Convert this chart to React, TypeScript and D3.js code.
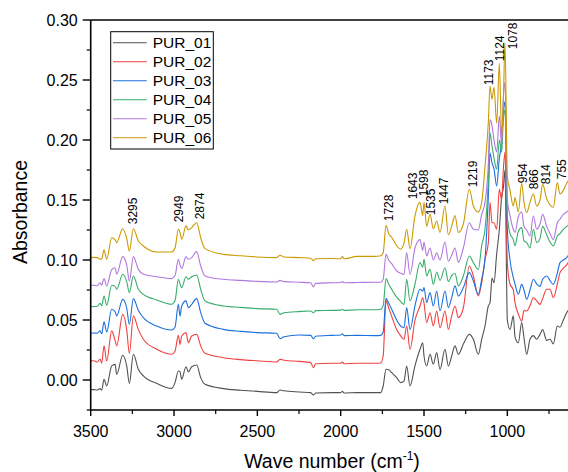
import React from 'react';
import * as d3 from 'd3';

// FTIR spectra of PUR_01..PUR_06 (stacked with offsets as in the figure)
const W = 568;
const H = 472;
const plot = { left: 90.7, right: 569, top: 20, bottom: 410 };

const waveNumbers = [
  3500, 3480, 3460, 3444, 3434, 3420, 3404, 3374, 3354, 3344, 3308, 3284, 3268, 3244, 3214, 3184,
  3104, 3014, 2994, 2974, 2964, 2954, 2928, 2914, 2894, 2864, 2840, 2814, 2704, 2600, 2500, 2384,
  2364, 2340, 2250, 2180, 2164, 2150, 2050, 2000, 1990, 1980, 1900,
  1800, 1760, 1745, 1728, 1712, 1694, 1664, 1640, 1620, 1604,
  1584, 1554, 1524, 1508, 1500, 1484, 1464, 1444, 1424, 1404,
  1374, 1354, 1334, 1314, 1294, 1264, 1228, 1204, 1174, 1154,
  1134, 1114, 1104, 1092, 1080, 1064, 1048, 1034, 1024, 1014,
  1000, 984, 964, 954, 934, 914, 900, 884, 864, 844,
  824, 804, 788, 764, 744, 724, 700, 684, 664, 644, 634,
];

const pur01 = [
  -0.0078, -0.008, -0.0083, -0.0072, -0.0086, 0.0006, -0.005, 0.0117, 0.013, 0.0047, 0.0206, 0.0117, -0.0028, 0.0214, 0.0089, 0.0034,
  -0.0028, -0.007, -0.0022, 0.0075, 0.0067, 0.0006, 0.0111, 0.0067, 0.0111, 0.0125, 0.002, -0.0036, -0.0072, -0.0085, -0.0095, -0.0105,
  -0.0083, -0.009, -0.01, -0.0105, -0.0125, -0.0108, -0.0105, -0.0105, -0.0095, -0.0108, -0.0105,
  -0.0105, -0.0105, -0.005, 0.0089, 0.0085, 0.0061, 0.002, -0.0022, -0.001, 0.0117,
  -0.005, 0.012, 0.0256, 0.0311, 0.02, 0.0117, 0.0214, 0.0131, 0.0228, 0.0089,
  0.0256, 0.0117, 0.02, 0.0284, 0.0214, 0.03, 0.038, 0.0339, 0.0214, 0.0339,
  0.045, 0.0617, 0.0645, 0.085, 0.081, 0.105, 0.1256, 0.153, 0.16, 0.175,
  0.05, 0.042, 0.0534, 0.036, 0.031, 0.0478, 0.035, 0.0214, 0.034, 0.037,
  0.034, 0.038, 0.042, 0.033, 0.034, 0.03, 0.045, 0.044, 0.05, 0.056, 0.058,
];

const pur02 = [
  0.0158, 0.016, 0.015, 0.0175, 0.014, 0.0284, 0.0158, 0.0409, 0.033, 0.0284, 0.0547, 0.042, 0.0222, 0.0534, 0.042, 0.034,
  0.0256, 0.0214, 0.024, 0.0372, 0.0297, 0.0367, 0.0395, 0.0311, 0.0367, 0.038, 0.0284, 0.0222, 0.0186, 0.017, 0.016, 0.015,
  0.0172, 0.0165, 0.0155, 0.0145, 0.0103, 0.0135, 0.014, 0.0139, 0.015, 0.0135, 0.014,
  0.014, 0.0142, 0.02, 0.066, 0.06, 0.053, 0.042, 0.0367, 0.0339, 0.045,
  0.0256, 0.05, 0.0617, 0.0686, 0.064, 0.0478, 0.0561, 0.045, 0.0575, 0.0436,
  0.0575, 0.0422, 0.0534, 0.0617, 0.052, 0.06, 0.095, 0.0867, 0.07, 0.081,
  0.1006, 0.1145, 0.148, 0.131, 0.131, 0.1256, 0.159, 0.15, 0.1756, 0.19,
  0.0978, 0.08, 0.075, 0.0645, 0.055, 0.049, 0.058, 0.0575, 0.062, 0.0686,
  0.066, 0.063, 0.068, 0.0756, 0.0756, 0.0686, 0.08, 0.0895, 0.093, 0.096, 0.098,
];

const pur03 = [
  0.0389, 0.0392, 0.039, 0.041, 0.0385, 0.0484, 0.04, 0.0589, 0.057, 0.0534, 0.0672, 0.06, 0.0464, 0.0678, 0.058, 0.052,
  0.045, 0.0417, 0.044, 0.0631, 0.0534, 0.0617, 0.0659, 0.0603, 0.0631, 0.0678, 0.0561, 0.0473, 0.0422, 0.0405, 0.0395, 0.0389,
  0.0345, 0.036, 0.0375, 0.0372, 0.0344, 0.0365, 0.0372, 0.0375, 0.0385, 0.037, 0.0372,
  0.037, 0.0372, 0.04, 0.068, 0.064, 0.059, 0.05, 0.045, 0.0436, 0.0603,
  0.042, 0.062, 0.0756, 0.074, 0.077, 0.0645, 0.0728, 0.0617, 0.0742, 0.0575,
  0.0742, 0.0603, 0.0686, 0.0784, 0.07, 0.077, 0.0895, 0.0825, 0.0714, 0.0839,
  0.1006, 0.153, 0.189, 0.181, 0.176, 0.1617, 0.185, 0.198, 0.223, 0.232,
  0.1256, 0.1, 0.0853, 0.08, 0.0714, 0.0797, 0.075, 0.0672, 0.075, 0.0839,
  0.08, 0.078, 0.084, 0.0867, 0.083, 0.0797, 0.089, 0.0978, 0.1, 0.102, 0.104,
];

const pur04 = [
  0.0611, 0.0612, 0.0615, 0.064, 0.062, 0.07, 0.0622, 0.0789, 0.078, 0.0756, 0.0881, 0.082, 0.0728, 0.0867, 0.0756, 0.0714,
  0.0667, 0.0631, 0.066, 0.0839, 0.08, 0.077, 0.0861, 0.0839, 0.0861, 0.0875, 0.0756, 0.0659, 0.0617, 0.0605, 0.0595, 0.0589,
  0.0547, 0.056, 0.057, 0.0575, 0.056, 0.0578, 0.058, 0.0582, 0.059, 0.058, 0.0585,
  0.0585, 0.059, 0.062, 0.0845, 0.08, 0.0756, 0.069, 0.0655, 0.063, 0.0839,
  0.066, 0.08, 0.0978, 0.094, 0.1006, 0.0867, 0.0922, 0.0797, 0.09, 0.083,
  0.0936, 0.082, 0.087, 0.089, 0.0784, 0.0867, 0.1033, 0.0978, 0.092, 0.112,
  0.1256, 0.167, 0.206, 0.195, 0.185, 0.1756, 0.2, 0.19, 0.217, 0.225,
  0.137, 0.122, 0.117, 0.112, 0.124, 0.127, 0.116, 0.1145, 0.11, 0.1256,
  0.1145, 0.118, 0.128, 0.121, 0.115, 0.1117, 0.12, 0.122, 0.1256, 0.128, 0.129,
];

const pur05 = [
  0.0789, 0.079, 0.0785, 0.081, 0.079, 0.0845, 0.0783, 0.092, 0.0936, 0.0881, 0.1028, 0.096, 0.0825, 0.1028, 0.0922, 0.0881,
  0.0861, 0.0845, 0.087, 0.1006, 0.096, 0.093, 0.1028, 0.1006, 0.102, 0.107, 0.095, 0.0867, 0.0839, 0.083, 0.0822, 0.0817,
  0.083, 0.082, 0.0815, 0.081, 0.0778, 0.0805, 0.081, 0.0812, 0.082, 0.081, 0.0812,
  0.0815, 0.0815, 0.084, 0.1047, 0.1, 0.097, 0.091, 0.089, 0.088, 0.1061,
  0.088, 0.11, 0.117, 0.108, 0.115, 0.1033, 0.11, 0.1, 0.106, 0.1,
  0.115, 0.099, 0.104, 0.11, 0.098, 0.11, 0.131, 0.1256, 0.125, 0.138,
  0.148, 0.18, 0.217, 0.212, 0.2, 0.19, 0.22, 0.195, 0.235, 0.248,
  0.15, 0.137, 0.1256, 0.123, 0.136, 0.14, 0.128, 0.125, 0.12, 0.1367,
  0.1256, 0.13, 0.138, 0.128, 0.122, 0.117, 0.131, 0.134, 0.138, 0.14, 0.141,
];

const pur06 = [
  0.102, 0.1022, 0.102, 0.1006, 0.101, 0.1084, 0.1006, 0.1186, 0.117, 0.1145, 0.1261, 0.118, 0.1075, 0.1261, 0.1159, 0.1117,
  0.1067, 0.1067, 0.11, 0.1256, 0.123, 0.1173, 0.1284, 0.125, 0.127, 0.1311, 0.1186, 0.1095, 0.1047, 0.1035, 0.1025, 0.102,
  0.104, 0.1025, 0.102, 0.1015, 0.0995, 0.101, 0.1012, 0.101, 0.103, 0.101, 0.103,
  0.103, 0.1035, 0.106, 0.129, 0.122, 0.119, 0.112, 0.109, 0.114, 0.1256,
  0.1095, 0.137, 0.148, 0.137, 0.148, 0.128, 0.138, 0.126, 0.1325, 0.123,
  0.145, 0.121, 0.128, 0.137, 0.123, 0.13, 0.159, 0.145, 0.14, 0.148,
  0.178, 0.215, 0.245, 0.234, 0.244, 0.214, 0.264, 0.203, 0.232, 0.281,
  0.17, 0.158, 0.145, 0.152, 0.14, 0.164, 0.148, 0.1395, 0.148, 0.155,
  0.145, 0.15, 0.163, 0.151, 0.146, 0.144, 0.1645, 0.155, 0.158, 0.164, 0.166,
];

const seriesNames = ['PUR_01', 'PUR_02', 'PUR_03', 'PUR_04', 'PUR_05', 'PUR_06'];
const seriesValues = [pur01, pur02, pur03, pur04, pur05, pur06];
const seriesColors = ['#515151', '#F14040', '#1A6FDF', '#37AD6B', '#B177DE', '#CC9900'];

// peak annotations: text, anchor wave number, anchor absorbance
const peakText = ['3295', '2949', '2874', '1728', '1643', '1598', '1535', '1447', '1219', '1173', '1124', '1078', '954', '866', '814', '755'];
const peakWn = [3224, 2944, 2823, 1684, 1540, 1476, 1434, 1354, 1184, 1084, 1020, 940, 880, 814, 744, 648];
const peakAbs = [0.1298, 0.1314, 0.1339, 0.1323, 0.1506, 0.1531, 0.1373, 0.1464, 0.1606, 0.2456, 0.2656, 0.2756, 0.1639, 0.1589, 0.1631, 0.1673];

const xMajor = [3500, 3000, 2500, 2000, 1500, 1000];
const xMinor = [3250, 2750, 2250, 1750, 1250, 750];
const yMajor = [0, 0.05, 0.1, 0.15, 0.2, 0.25, 0.3];
const yMinor = [-0.025, 0.025, 0.075, 0.125, 0.175, 0.225, 0.275];

const FONT = 'Arial, "Liberation Sans", sans-serif';

export default function App() {
  const x = d3.scaleLinear().domain([3500, 630]).range([plot.left, plot.right]);
  const y = d3.scaleLinear().domain([-0.025, 0.3]).range([plot.bottom, plot.top]);

  const line = d3
    .line<number>()
    .x((_, i) => x(waveNumbers[i]))
    .y((d) => y(d))
    .curve(d3.curveMonotoneX);

  return (
    <svg
      width={W}
      height={H}
      style={{ position: 'absolute', left: 0, top: 0, background: '#fff' }}
      fontFamily={FONT}
    >
      <defs>
        <clipPath id="plotClip">
          <rect x={plot.left} y={plot.top} width={W - plot.left} height={plot.bottom - plot.top} />
        </clipPath>
      </defs>

      <g clipPath="url(#plotClip)">
        {seriesValues.map((vals, i) => (
          <path key={seriesNames[i]} d={line(vals) || ''} fill="none" stroke={seriesColors[i]} strokeWidth={1.1} />
        ))}
      </g>

      {/* frame */}
      <line x1={plot.left} x2={W} y1={plot.top} y2={plot.top} stroke="#000" strokeWidth={1.6} />
      <line x1={plot.left} x2={plot.left} y1={plot.top} y2={plot.bottom} stroke="#000" strokeWidth={1.6} />
      <line x1={plot.left - 0.8} x2={W} y1={plot.bottom} y2={plot.bottom} stroke="#000" strokeWidth={1.6} />

      {/* x ticks */}
      {xMajor.map((t) => (
        <g key={'xm' + t}>
          <line x1={x(t)} x2={x(t)} y1={plot.bottom} y2={plot.bottom + 6} stroke="#000" strokeWidth={1.4} />
          <text x={x(t)} y={plot.bottom + 27} textAnchor="middle" fontSize={16}>
            {t}
          </text>
        </g>
      ))}
      {xMinor.map((t) => (
        <line key={'xn' + t} x1={x(t)} x2={x(t)} y1={plot.bottom} y2={plot.bottom + 4} stroke="#000" strokeWidth={1.2} />
      ))}

      {/* y ticks */}
      {yMajor.map((t) => (
        <g key={'ym' + t}>
          <line x1={plot.left - 8} x2={plot.left} y1={y(t)} y2={y(t)} stroke="#000" strokeWidth={1.4} />
          <text x={plot.left - 13} y={y(t) + 5.8} textAnchor="end" fontSize={16}>
            {d3.format('.2f')(t)}
          </text>
        </g>
      ))}
      {yMinor.map((t) => (
        <line key={'yn' + t} x1={plot.left - 4} x2={plot.left} y1={y(t)} y2={y(t)} stroke="#000" strokeWidth={1.2} />
      ))}

      {/* axis titles */}
      <text x={332} y={468} textAnchor="middle" fontSize={19.5}>
        Wave number (cm
        <tspan dy={-8} fontSize={12}>-1</tspan>
        <tspan dy={8}>)</tspan>
      </text>
      <text transform="translate(27,212) rotate(-90)" textAnchor="middle" fontSize={19.5}>
        Absorbance
      </text>

      {/* peak labels */}
      {peakText.map((t, i) => (
        <text
          key={'pk' + t}
          transform={`translate(${x(peakWn[i])},${y(peakAbs[i])}) rotate(-90)`}
          fontSize={12}
        >
          {t}
        </text>
      ))}

      {/* legend */}
      <rect x={110.7} y={31.7} width={102.6} height={117.3} fill="#fff" stroke="#000" strokeWidth={1} />
      {seriesNames.map((name, i) => (
        <g key={'lg' + name} transform={`translate(0,${42.7 + i * 19})`}>
          <line x1={113} x2={146.7} y1={0} y2={0} stroke={seriesColors[i]} strokeWidth={1.1} />
          <text x={152.7} y={5.6} fontSize={15.5}>
            {name}
          </text>
        </g>
      ))}
    </svg>
  );
}
